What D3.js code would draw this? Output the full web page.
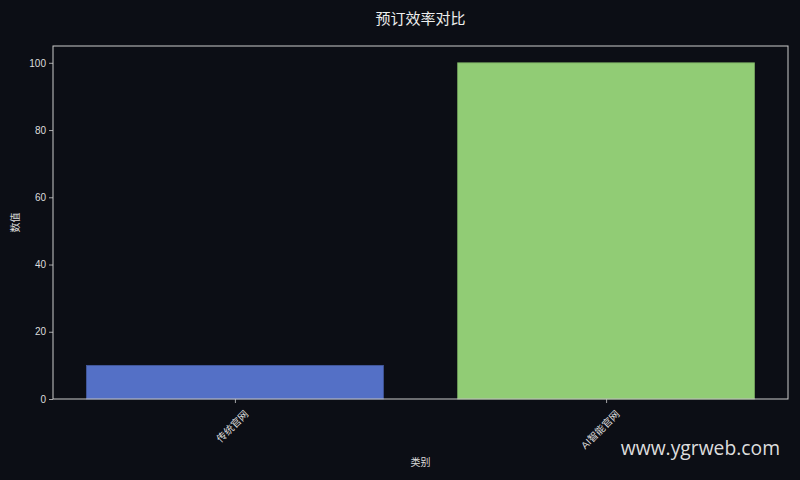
<!DOCTYPE html>
<html>
<head>
<meta charset="utf-8">
<script src="https://cdn.jsdelivr.net/npm/d3@7"></script>
<style>
  body { margin: 0; background: #0c0e15; }
  svg { display: block; font-family: "Noto Sans CJK SC", "DejaVu Sans", sans-serif; }
</style>
</head>
<body>
<div id="chart"></div>
<script>
// Data
const categories = ["传统官网", "AI智能官网"];
const values = [10, 100];
const barColors = ["#5470c6", "#91cc75"];
const yTicks = [0, 20, 40, 60, 80, 100];

const width = 800;
const height = 480;
const margin = { top: 46, right: 12, bottom: 81, left: 53 };
const innerW = width - margin.left - margin.right;
const innerH = height - margin.top - margin.bottom;

const svg = d3
  .select("#chart")
  .append("svg")
  .attr("width", width)
  .attr("height", height);

svg.append("rect").attr("width", width).attr("height", height).attr("fill", "#0c0e15");

const g = svg.append("g").attr("transform", `translate(${margin.left},${margin.top})`);

// matplotlib-like limits: bars 0.8 wide, 5% margins
const x = d3.scaleLinear().domain([-0.49, categories.length - 1 + 0.49]).range([0, innerW]);
const y = d3.scaleLinear().domain([0, 105]).range([innerH, 0]);
const barW = x(0.8) - x(0);

g.selectAll("rect.bar")
  .data(values)
  .enter()
  .append("rect")
  .attr("class", "bar")
  .attr("x", (d, i) => x(i) - barW / 2)
  .attr("y", (d) => y(d))
  .attr("width", barW)
  .attr("height", (d) => y(0) - y(d))
  .attr("fill", (d, i) => barColors[i])
  .attr("stroke", (d, i) => d3.color(barColors[i]).darker(0.6))
  .attr("stroke-width", 0.8);

// Axes
const yAxis = g.append("g").call(
  d3.axisLeft(y).tickValues(yTicks).tickSize(4).tickPadding(3)
);
const xAxis = g
  .append("g")
  .attr("transform", `translate(0,${innerH})`)
  .call(
    d3.axisBottom(x).tickValues(d3.range(categories.length)).tickFormat((i) => categories[i]).tickSize(4).tickPadding(2)
  );

[yAxis, xAxis].forEach((ax) => {
  ax.select(".domain").remove();
  ax.selectAll("line").attr("stroke", "#cccccc").attr("stroke-width", 0.8);
  ax.selectAll("text").attr("fill", "#dddddd").style("font-size", "10px").style("font-family", "'Liberation Sans', 'Noto Sans CJK SC', sans-serif");
});

xAxis
  .selectAll("text")
  .attr("text-anchor", "end")
  .attr("dy", "0.35em")
  .attr("transform", "translate(7,9) rotate(-45)");

// Frame
g.append("rect")
  .attr("width", innerW)
  .attr("height", innerH)
  .attr("fill", "none")
  .attr("stroke", "#cccccc")
  .attr("stroke-width", 1);

// Title and labels
svg.append("text")
  .attr("x", margin.left + innerW / 2)
  .attr("y", 24)
  .attr("text-anchor", "middle")
  .attr("fill", "#eeeeee")
  .style("font-size", "15px")
  .text("预订效率对比");

svg.append("text")
  .attr("x", margin.left + innerW / 2)
  .attr("y", 466)
  .attr("text-anchor", "middle")
  .attr("fill", "#dddddd")
  .style("font-size", "10px")
  .text("类别");

svg.append("text")
  .attr("transform", `translate(19,${margin.top + innerH / 2}) rotate(-90)`)
  .attr("text-anchor", "middle")
  .attr("fill", "#dddddd")
  .style("font-size", "10px")
  .text("数值");

// Watermark
svg.append("text")
  .attr("x", 780)
  .attr("y", 455)
  .attr("text-anchor", "end")
  .attr("fill", "#dddddd")
  .style("font-size", "19.3px")
  .style("font-family", "'Open Sans', 'DejaVu Sans', sans-serif")
  .text("www.ygrweb.com");
</script>
</body>
</html>
